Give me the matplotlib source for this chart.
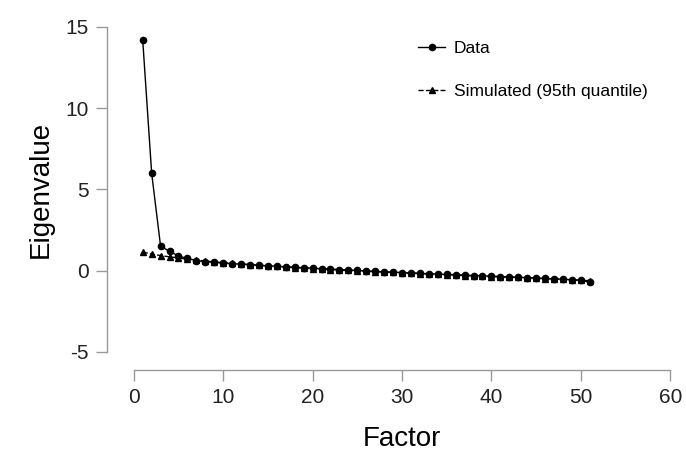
import matplotlib
matplotlib.use('Agg')
import matplotlib.pyplot as plt

factors = list(range(1, 52))
data_eig = [14.2, 6.0, 1.5, 1.2, 0.9, 0.75, 0.62, 0.56, 0.51, 0.47,
            0.43, 0.40, 0.37, 0.33, 0.30, 0.27, 0.24, 0.21, 0.18, 0.15,
            0.12, 0.10, 0.07, 0.04, 0.01, -0.02, -0.04, -0.07, -0.09, -0.12,
            -0.14, -0.16, -0.19, -0.21, -0.23, -0.25, -0.28, -0.30, -0.32, -0.34,
            -0.36, -0.38, -0.41, -0.43, -0.45, -0.48, -0.50, -0.53, -0.56, -0.60,
            -0.70]
sim_eig = [1.15, 1.02, 0.93, 0.85, 0.78, 0.71, 0.65, 0.59, 0.54, 0.49,
           0.45, 0.41, 0.37, 0.33, 0.29, 0.26, 0.22, 0.19, 0.16, 0.13,
           0.10, 0.07, 0.04, 0.02, -0.01, -0.04, -0.06, -0.09, -0.11, -0.14,
           -0.16, -0.18, -0.21, -0.23, -0.25, -0.27, -0.30, -0.32, -0.34, -0.36,
           -0.38, -0.40, -0.42, -0.45, -0.47, -0.49, -0.51, -0.54, -0.56, -0.59,
           -0.62]
xticks = [0, 10, 20, 30, 40, 50, 60]
yticks = [-5, 0, 5, 10, 15]

plt.rcParams['font.family'] = ['Liberation Sans', 'DejaVu Sans']
plt.rcParams['axes.unicode_minus'] = False

fig = plt.figure(figsize=(6.86, 4.57), dpi=100)
ax = fig.add_axes([0.195, 0.23, 0.782, 0.711])

ax.plot(factors, data_eig, color='black', linestyle='-', linewidth=1,
        marker='o', markersize=4.5, label='Data')
ax.plot(factors, sim_eig, color='black', linestyle='--', linewidth=1,
        marker='^', markersize=4.5, label='Simulated (95th quantile)')

ax.set_xlim(0, 60)
ax.set_ylim(-5, 15)
ax.set_xticks(xticks)
ax.set_yticks(yticks)

for s in ['top', 'right']:
    ax.spines[s].set_visible(False)
ax.spines['left'].set_position(('outward', 19.5))
ax.spines['bottom'].set_position(('outward', 13))
for s in ['left', 'bottom']:
    ax.spines[s].set_color('#999999')
    ax.spines[s].set_linewidth(1)
ax.tick_params(axis='both', colors='#999999', length=8, width=1,
               labelsize=15, labelcolor='#222222', pad=5)

ax.set_xlabel('Factor', fontsize=20, labelpad=14)
ax.set_ylabel('Eigenvalue', fontsize=20, labelpad=8)

ax.legend(loc='upper left', bbox_to_anchor=(0.5, 1.005), frameon=False,
          fontsize=12.5, handlelength=1.6, handletextpad=0.5, labelspacing=1.6)

fig.savefig('out.png', dpi=100)
